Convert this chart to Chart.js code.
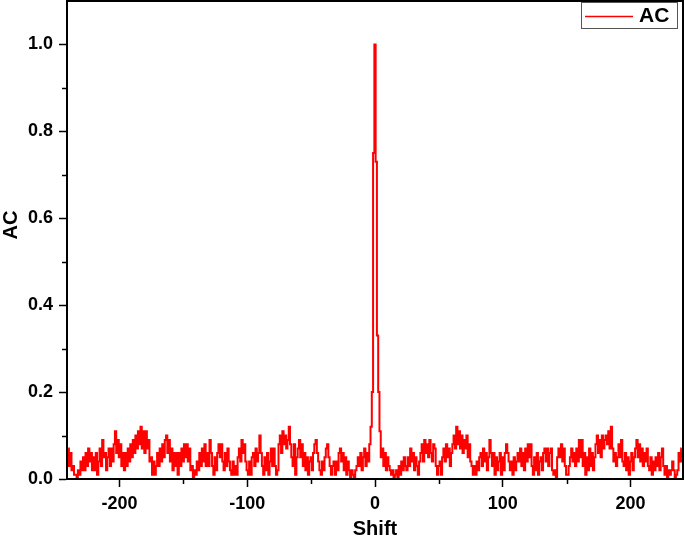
<!DOCTYPE html>
<html>
<head>
<meta charset="utf-8">
<script src="https://cdn.jsdelivr.net/npm/chart.js@4.4.0/dist/chart.umd.min.js"></script>
<style>
  html, body { margin: 0; padding: 0; background: #fff; }
  #wrap { width: 685px; height: 538px; }
</style>
</head>
<body>
<div id="wrap"><canvas id="acChart" width="685" height="538"></canvas></div>
<script>
// Autocorrelation values, shift -240 .. 240
const acNegative = [
  0.07, 0.03, 0.06, 0.02, 0.03, 0.01, 0.01, 0.00, 0.02, 0.01, // -240..-231
  0.04, 0.02, 0.05, 0.02, 0.06, 0.03, 0.07, 0.04, 0.06, 0.02,
  0.05, 0.02, 0.06, 0.01, 0.04, 0.07, 0.03, 0.09, 0.05, 0.06,
  0.02, 0.05, 0.07, 0.03, 0.07, 0.04, 0.08, 0.11, 0.06, 0.09,
  0.05, 0.08, 0.03, 0.06, 0.02, 0.06, 0.03, 0.07, 0.04, 0.08, // -200..-191
  0.05, 0.09, 0.06, 0.10, 0.07, 0.11, 0.08, 0.12, 0.07, 0.11,
  0.06, 0.11, 0.07, 0.09, 0.04, 0.05, 0.01, 0.04, 0.01, 0.03,
  0.06, 0.03, 0.07, 0.04, 0.08, 0.05, 0.09, 0.10, 0.06, 0.09,
  0.04, 0.07, 0.02, 0.06, 0.03, 0.06, 0.01, 0.06, 0.03, 0.07,
  0.04, 0.08, 0.05, 0.08, 0.04, 0.07, 0.02, 0.03, 0.00, 0.02, // -150..-141
  0.01, 0.04, 0.02, 0.06, 0.03, 0.07, 0.04, 0.08, 0.03, 0.06,
  0.03, 0.09, 0.06, 0.03, 0.01, 0.05, 0.02, 0.06, 0.08, 0.05,
  0.08, 0.04, 0.02, 0.06, 0.03, 0.07, 0.04, 0.02, 0.01, 0.04,
  0.01, 0.03, 0.01, 0.05, 0.07, 0.04, 0.09, 0.06, 0.08, 0.04,
  0.02, 0.01, 0.04, 0.01, 0.05, 0.06, 0.03, 0.07, 0.04, 0.06, // -100..-91
  0.10, 0.06, 0.03, 0.01, 0.05, 0.02, 0.06, 0.01, 0.04, 0.07,
  0.03, 0.07, 0.03, 0.01, 0.02, 0.08, 0.10, 0.06, 0.11, 0.08,
  0.10, 0.07, 0.09, 0.12, 0.08, 0.05, 0.03, 0.08, 0.01, 0.05,
  0.07, 0.09, 0.05, 0.08, 0.03, 0.06, 0.02, 0.05, 0.01, 0.04,
  0.05, 0.02, 0.06, 0.08, 0.09, 0.06, 0.04, 0.02, 0.01, 0.04, // -50..-41
  0.02, 0.05, 0.07, 0.08, 0.05, 0.03, 0.01, 0.03, 0.04, 0.01,
  0.04, 0.02, 0.06, 0.07, 0.04, 0.06, 0.02, 0.05, 0.01, 0.04,
  0.02, 0.00, 0.02, 0.01, 0.00, 0.02, 0.03, 0.05, 0.03, 0.06,
  0.02, 0.05, 0.07, 0.03, 0.06, 0.04, 0.08, 0.12, 0.20, 0.75  // -10..-1
];
const acCenter = 1.0;
const acPositive = [
  0.73, 0.33, 0.20, 0.11, 0.05, 0.07, 0.03, 0.06, 0.02, 0.05, // 1..10
  0.03, 0.02, 0.01, 0.02, 0.00, 0.01, 0.02, 0.00, 0.03, 0.01,
  0.04, 0.02, 0.05, 0.03, 0.02, 0.05, 0.03, 0.07, 0.04, 0.06,
  0.02, 0.05, 0.03, 0.01, 0.04, 0.06, 0.08, 0.04, 0.09, 0.06,
  0.08, 0.05, 0.09, 0.06, 0.04, 0.08, 0.07, 0.03, 0.01, 0.03,
  0.04, 0.01, 0.05, 0.07, 0.04, 0.08, 0.05, 0.07, 0.03, 0.06, // 51..60
  0.08, 0.10, 0.07, 0.12, 0.08, 0.11, 0.07, 0.10, 0.06, 0.09,
  0.07, 0.10, 0.05, 0.08, 0.04, 0.03, 0.01, 0.03, 0.01, 0.04,
  0.02, 0.05, 0.06, 0.03, 0.07, 0.04, 0.06, 0.02, 0.05, 0.09,
  0.06, 0.03, 0.06, 0.01, 0.05, 0.02, 0.04, 0.06, 0.01, 0.05,
  0.02, 0.06, 0.08, 0.06, 0.04, 0.02, 0.04, 0.01, 0.05, 0.02, // 101..110
  0.04, 0.06, 0.04, 0.07, 0.03, 0.06, 0.02, 0.07, 0.04, 0.08,
  0.05, 0.08, 0.03, 0.01, 0.05, 0.02, 0.06, 0.01, 0.04, 0.05,
  0.02, 0.06, 0.07, 0.04, 0.07, 0.03, 0.06, 0.07, 0.02, 0.01,
  0.02, 0.00, 0.05, 0.07, 0.05, 0.08, 0.04, 0.07, 0.03, 0.01,
  0.01, 0.03, 0.05, 0.07, 0.04, 0.06, 0.03, 0.07, 0.04, 0.09, // 151..160
  0.05, 0.09, 0.03, 0.06, 0.01, 0.05, 0.02, 0.07, 0.03, 0.06,
  0.02, 0.05, 0.08, 0.10, 0.06, 0.09, 0.05, 0.10, 0.07, 0.09,
  0.10, 0.08, 0.11, 0.07, 0.12, 0.07, 0.04, 0.06, 0.03, 0.05,
  0.08, 0.05, 0.09, 0.04, 0.03, 0.06, 0.02, 0.05, 0.01, 0.04,
  0.06, 0.02, 0.05, 0.07, 0.09, 0.05, 0.08, 0.04, 0.07, 0.03, // 201..210
  0.06, 0.04, 0.07, 0.03, 0.02, 0.05, 0.01, 0.04, 0.02, 0.05,
  0.03, 0.06, 0.02, 0.05, 0.07, 0.03, 0.01, 0.03, 0.00, 0.02,
  0.01, 0.02, 0.04, 0.02, 0.00, 0.01, 0.02, 0.06, 0.04, 0.07
];
const shiftStart = -240;

const xTicks = [-200, -100, 0, 100, 200];
const xMinorTicks = [-150, -50, 50, 150];
const yTicks = [0, 0.2, 0.4, 0.6, 0.8, 1.0];
const yMinorTicks = [0.1, 0.3, 0.5, 0.7, 0.9];

const acValues = acNegative.concat([acCenter], acPositive);
const points = acValues.map(function (v, i) {
    return { x: shiftStart + i, y: v };
});

const fontFamily = '"Liberation Sans", Arial, sans-serif';

// Box round the plot, minor ticks, y title and the legend
const framePlugin = {
    id: 'frame',
    afterDraw: function (chart) {
        const ctx = chart.ctx;
        const a = chart.chartArea;
        const xs = chart.scales.x;
        const ys = chart.scales.y;
        ctx.save();
        ctx.strokeStyle = '#000';
        ctx.lineWidth = 2;
        ctx.strokeRect(a.left, a.top, a.right - a.left, a.bottom - a.top);

        ctx.lineWidth = 1.5;
        ctx.beginPath();
        xMinorTicks.forEach(function (t) {
            const px = Math.round(xs.getPixelForValue(t)) + 0.5;
            ctx.moveTo(px, a.bottom);
            ctx.lineTo(px, a.bottom + 5);
        });
        yMinorTicks.forEach(function (t) {
            const py = Math.round(ys.getPixelForValue(t)) + 0.5;
            ctx.moveTo(a.left, py);
            ctx.lineTo(a.left - 5, py);
        });
        ctx.stroke();

        // y axis title
        ctx.fillStyle = '#000';
        ctx.font = 'bold 20px ' + fontFamily;
        ctx.textAlign = 'center';
        ctx.textBaseline = 'middle';
        ctx.save();
        ctx.translate(11, 225);
        ctx.rotate(-Math.PI / 2);
        ctx.fillText('AC', 0, 0);
        ctx.restore();

        // legend
        ctx.fillStyle = '#fff';
        ctx.fillRect(581, 2, 96, 26);
        ctx.strokeStyle = '#555';
        ctx.lineWidth = 1;
        ctx.strokeRect(581.5, 2.5, 96, 26);
        ctx.strokeStyle = '#ff0000';
        ctx.lineWidth = 1.5;
        ctx.beginPath();
        ctx.moveTo(585, 16.5);
        ctx.lineTo(633, 16.5);
        ctx.stroke();
        ctx.fillStyle = '#000';
        ctx.font = 'bold 21px ' + fontFamily;
        ctx.textBaseline = 'middle';
        ctx.textAlign = 'left';
        ctx.fillText('AC', 639, 16);
        ctx.restore();
    }
};

const tickFont = { family: fontFamily, size: 18, weight: 'bold' };
const titleFont = { family: fontFamily, size: 20, weight: 'bold' };

new Chart(document.getElementById('acChart'), {
    type: 'line',
    data: {
        datasets: [{
            label: 'AC',
            data: points,
            borderColor: '#ff0000',
            borderWidth: 2,
            pointRadius: 0,
            stepped: 'middle',
            fill: false
        }]
    },
    options: {
        responsive: false,
        animation: false,
        parsing: false,
        layout: { padding: { left: 0, top: 1, right: 2, bottom: 0 } },
        plugins: {
            legend: { display: false },
            tooltip: { enabled: false }
        },
        scales: {
            x: {
                type: 'linear',
                min: -241,
                max: 241,
                afterBuildTicks: function (scale) {
                    scale.ticks = xTicks.map(function (v) { return { value: v }; });
                },
                afterFit: function (scale) {
                    scale.height = 59;
                    scale.paddingLeft = 0;
                    scale.paddingRight = 0;
                },
                grid: { drawOnChartArea: false, drawTicks: true, tickLength: 8, tickWidth: 1.5, tickColor: '#000' },
                border: { display: true, color: '#000', width: 2 },
                ticks: {
                    color: '#000',
                    font: tickFont,
                    padding: 6,
                    maxRotation: 0,
                    callback: function (v) { return String(v); }
                },
                title: { display: true, text: 'Shift', color: '#000', font: titleFont, padding: { top: 0, bottom: -3 } }
            },
            y: {
                type: 'linear',
                min: 0,
                max: 1.1,
                afterBuildTicks: function (scale) {
                    scale.ticks = yTicks.map(function (v) { return { value: v }; });
                },
                afterFit: function (scale) {
                    scale.width = 67;
                    scale.paddingTop = 0;
                    scale.paddingBottom = 0;
                },
                grid: { drawOnChartArea: false, drawTicks: true, tickLength: 8, tickWidth: 1.5, tickColor: '#000' },
                border: { display: true, color: '#000', width: 2 },
                ticks: {
                    color: '#000',
                    font: tickFont,
                    padding: 6,
                    callback: function (v) { return v.toFixed(1); }
                },
                title: { display: false }
            }
        }
    },
    plugins: [framePlugin]
});
</script>
</body>
</html>
